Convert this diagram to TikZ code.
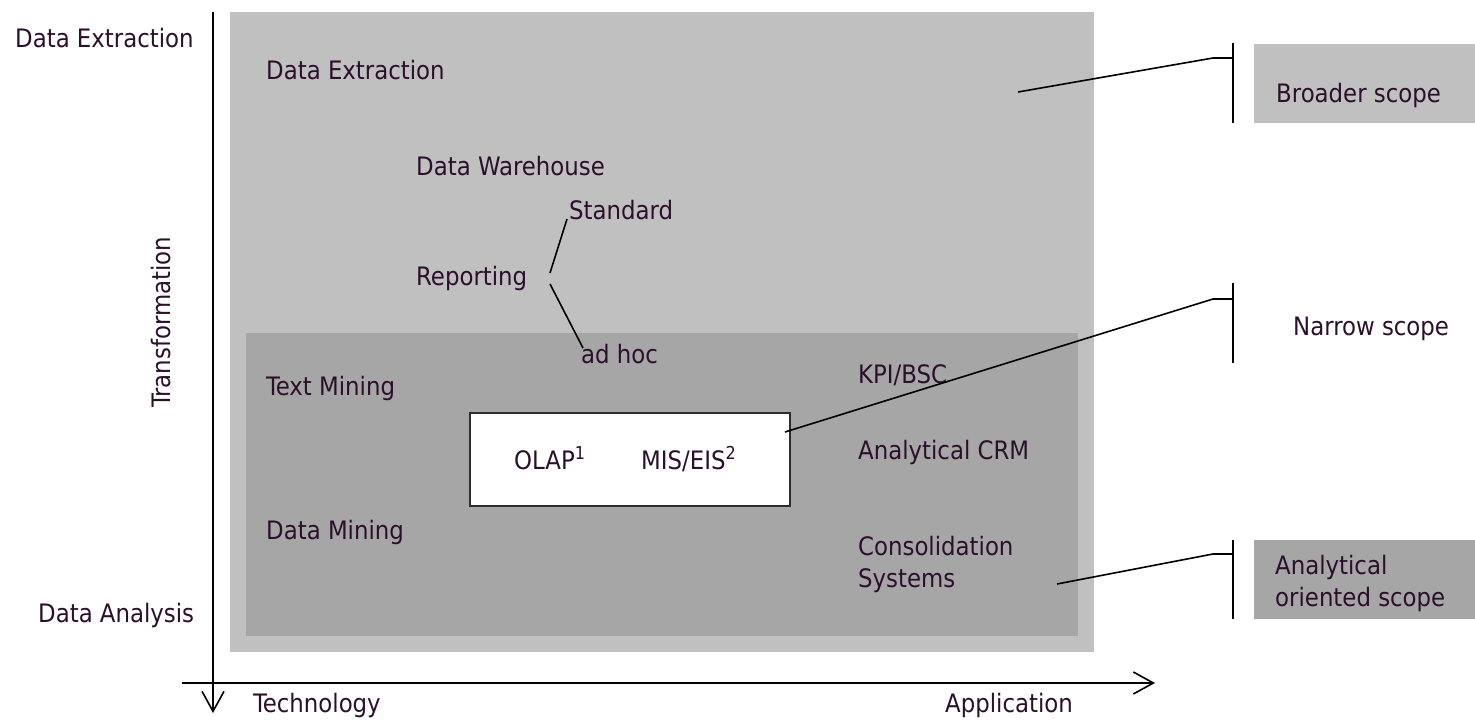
\documentclass[tikz,border=0pt]{standalone}
\usepackage{fontspec}
\setmainfont{DejaVu Sans Condensed}
\usetikzlibrary{arrows.meta}
\definecolor{txt}{RGB}{43,16,43}
\definecolor{outerg}{RGB}{192,192,192}
\definecolor{innerg}{RGB}{166,166,166}
\definecolor{boxline}{RGB}{45,45,45}
\tikzset{
  lbl/.style={anchor=base west, inner sep=0pt, text=txt, font=\fontsize{25.4}{31.5}\selectfont},
  conn/.style={draw=black, line width=1.6pt},
  brk/.style={draw=black, line width=2pt},
  axis/.style={draw=black, line width=2pt, -{Straight Barb[length=20pt,width=22pt,line width=1.6pt]}},
}
\begin{document}
\begin{tikzpicture}[x=1pt,y=-1pt]
\useasboundingbox (0,0) rectangle (1475,722);
% background regions
\fill[outerg] (230,12) rectangle (1094,652);
\fill[innerg] (246,333) rectangle (1078,636);
\node[draw=boxline, line width=2pt, fill=white, minimum width=320pt, minimum height=93pt, inner sep=0pt] (olapbox) at (630,459.5) {};
% scope boxes
\fill[outerg] (1254,44) rectangle (1475,123);
\fill[innerg] (1254,540) rectangle (1475,619);
% axes
\coordinate (vtop) at (213,12);
\coordinate (vbot) at (213,713);
\coordinate (hleft) at (182,683);
\coordinate (hright) at (1155,683);
\draw[axis] (vtop) -- (vbot);
\draw[axis] (hleft) -- (hright);
% labels
\node[lbl] (dext) at (15,48) {Data Extraction};
\node[lbl] (dana) at (38,622) {Data Analysis};
\node[lbl, rotate=90] (trans) at (170,408) {Transformation};
\node[lbl] (tech) at (253,712) {Technology};
\node[lbl] (appl) at (945,712) {Application};
\node[lbl] (dext2) at (266,80) {Data Extraction};
\node[lbl] (dwh) at (416,176) {Data Warehouse};
\node[lbl] (std) at (569,219) {Standard};
\node[lbl] (rep) at (416,285) {Reporting};
\node[lbl] (adhoc) at (581,363) {ad hoc};
\node[lbl] (tmin) at (266,395) {Text Mining};
\node[lbl] (dmin) at (266,539) {Data Mining};
\node[lbl] (kpi) at (858,383) {KPI/BSC};
\node[lbl] (crm) at (858,459) {Analytical CRM};
\node[lbl, align=left] (cons) at (858,587) {Consolidation\\Systems};
\node[lbl] (olap) at (514,469) {OLAP\textsuperscript{1}};
\node[lbl] (mis) at (641,469) {MIS/EIS\textsuperscript{2}};
\node[lbl] (broad) at (1276,103) {Broader scope};
\node[lbl] (narrow) at (1293,335) {Narrow scope};
\node[lbl, align=left] (anal) at (1275,606) {Analytical\\oriented scope};
% reporting branches
\coordinate (rs) at (550,273);
\coordinate (rse) at (567,219);
\coordinate (ra) at (550,284);
\coordinate (rae) at (583,348);
\draw[conn] (rs) -- (rse);
\draw[conn] (ra) -- (rae);
% broader bracket
\coordinate (b0) at (1018,92);
\coordinate (b1) at (1213,58);
\coordinate (b2) at (1233,58);
\coordinate (bt) at (1233,43);
\coordinate (bb) at (1233,123);
\draw[conn] (b0) -- (b1) -- (b2);
\draw[brk] (bt) -- (bb);
% narrow bracket
\coordinate (n0) at (785,432);
\coordinate (n1) at (1213,299);
\coordinate (n2) at (1233,299);
\coordinate (nt) at (1233,283);
\coordinate (nb) at (1233,363);
\draw[conn] (n0) -- (n1) -- (n2);
\draw[brk] (nt) -- (nb);
% analytical bracket
\coordinate (a0) at (1057,584);
\coordinate (a1) at (1213,554);
\coordinate (a2) at (1233,554);
\coordinate (at) at (1233,540);
\coordinate (ab) at (1233,619);
\draw[conn] (a0) -- (a1) -- (a2);
\draw[brk] (at) -- (ab);
\end{tikzpicture}
\end{document}
